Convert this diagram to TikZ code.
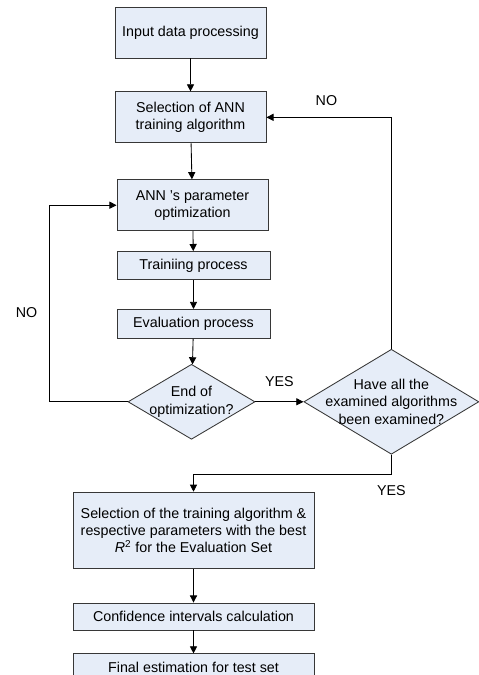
\documentclass[tikz,border=0pt]{standalone}
\usepackage{fontspec}
\setmainfont{Liberation Sans}
\usetikzlibrary{positioning,arrows.meta,shapes.geometric}
\definecolor{boxfill}{RGB}{230,237,248}
\definecolor{boxline}{RGB}{55,55,55}

\begin{document}
\begin{tikzpicture}
    [proc/.style={rectangle,draw=boxline,fill=boxfill,line width=0.6pt,
       minimum width=105.7pt,minimum height=35.7pt,align=center},
     procflat/.style={proc,minimum width=107.1pt,minimum height=19.6pt},
     procwide/.style={proc,minimum width=168.7pt,minimum height=19.2pt},
     decision/.style={diamond,draw=boxline,fill=boxfill,line width=0.6pt,inner sep=0pt},
     dtext/.style={align=center,inner sep=0pt},
     >={Triangle[length=5pt,width=5pt]}, line width=0.6pt]

    \useasboundingbox (0,0) rectangle (334.6pt,-472.5pt);

    \node[proc] (input) at (133.35pt,-22.75pt) {Input data processing};

    \node[proc] (selalg) [below=23.1pt of input] {Selection of ANN\\training algorithm}
      edge [<-] (input);

    \node[proc] (paramopt) [below=25.2pt of selalg, xshift=1.4pt] {ANN 's parameter\\optimization}
      edge [<-] (selalg);

    \node[procflat] (training) [below=14pt of paramopt, xshift=0.7pt] {Trainiing process}
      edge [<-] (paramopt);

    \node[procflat] (evaluation) [below=20.3pt of training, minimum height=20.3pt] {Evaluation process}
      edge [<-] (training);

    \node[decision] (optend) [below=17.5pt of evaluation, xshift=-1.4pt,
      minimum width=88.9pt, minimum height=52.5pt] {}
      edge [<-] (evaluation);
    \node[dtext] (optendtext) at (optend) {End of\\optimization?};

    \node[decision] (allalg) [right=33.6pt of optend,
      minimum width=122.5pt, minimum height=73.5pt] {};
    \node[dtext] (allalgtext) at (allalg) {Have all the\\examined algorithms\\been examined?};

    \node[procwide] (bestsel) [below=36.4pt of optend, xshift=1.4pt, minimum height=53.2pt]
      {Selection of the training algorithm \&\\respective parameters with the best\\\textit{R}\textsuperscript{2} for the Evaluation Set};

    \node[procwide] (confint) [below=23.8pt of bestsel, minimum height=18.9pt] {Confidence intervals calculation}
      edge [<-] (bestsel);

    \node[procwide] (finalest) [below=16.1pt of confint] {Final estimation for test set}
      edge [<-] (confint);

    % loops and decisions
    \draw[->] (optend.west) -- ++(-54.6pt,0) |- node[pos=0.228,left=5pt] {NO} (paramopt.west);
    \draw[->] (optend.east) -- node[above=7pt] {YES} (allalg.west);
    \draw[->] (allalg.north) |- node[pos=0.76,above=4.3pt] {NO} (selalg.east);
    \draw[->] (allalg.south) -- ++(0,-14pt) node[below=3.6pt] {YES} -| (bestsel.north);
\end{tikzpicture}
\end{document}
